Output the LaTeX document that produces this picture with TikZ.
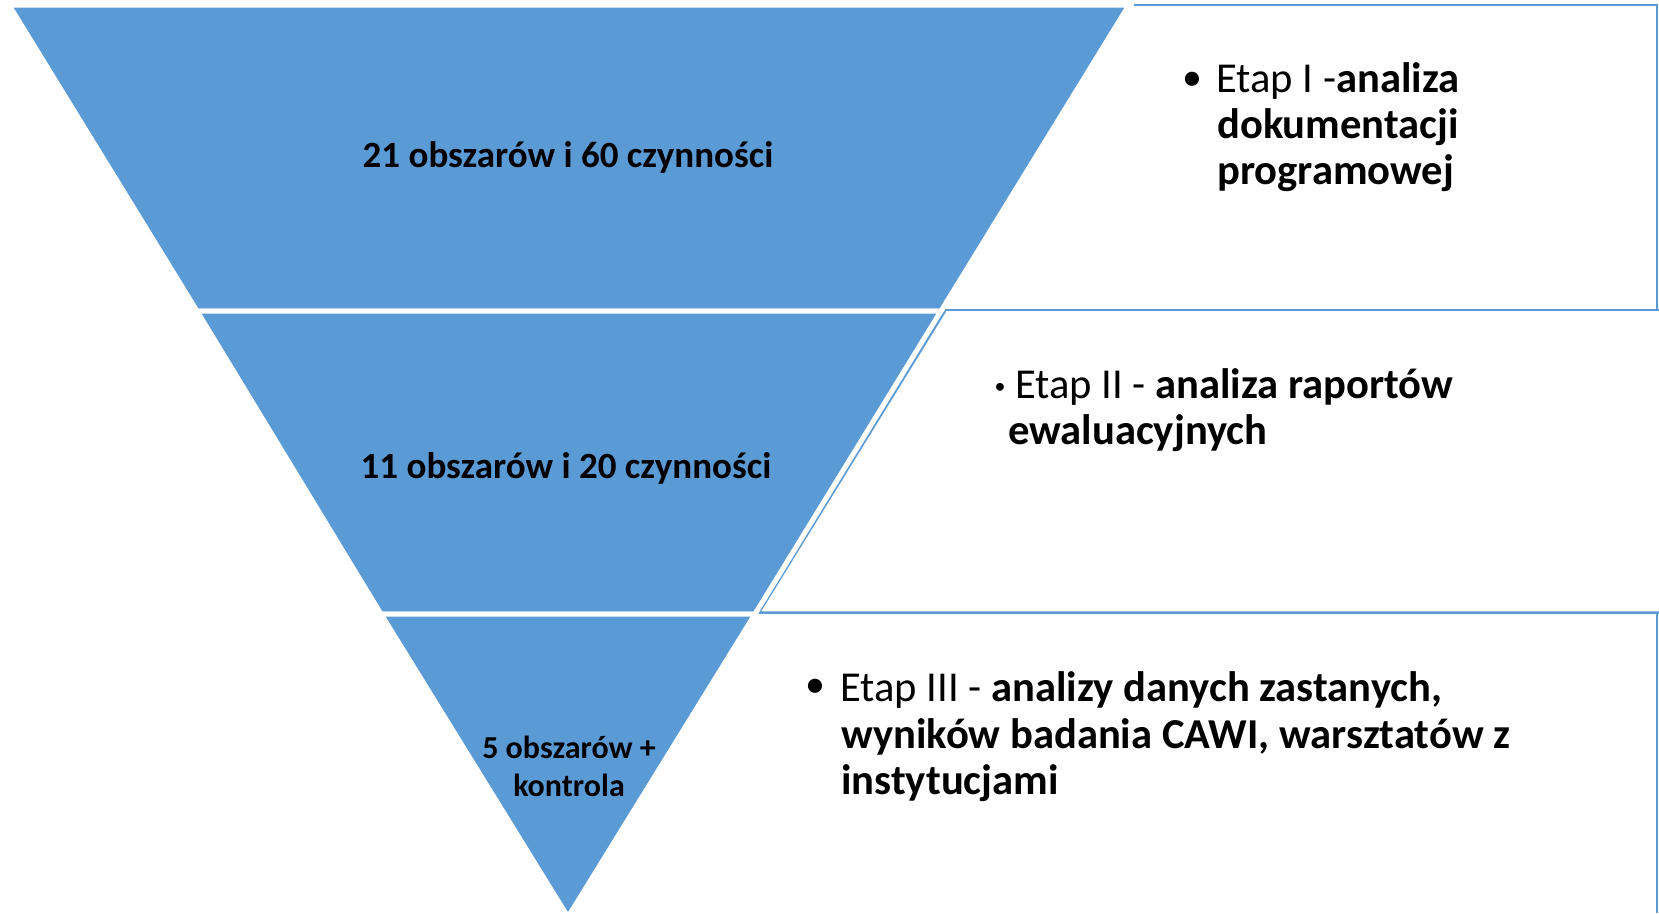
\documentclass[tikz,border=0pt]{standalone}
\usepackage{fontspec}
\setmainfont{Carlito}
\definecolor{segblue}{HTML}{5B9BD5}
\begin{document}
\begin{tikzpicture}[x=1pt,y=-1pt,
  seg/.style={fill=segblue,draw=white,line width=5pt,line join=miter},
  panelline/.style={draw=segblue,line width=2.5pt},
  trilabel/.style={anchor=base,inner sep=0pt,text=black,font=\bfseries\fontsize{37}{44}\selectfont},
  smalllabel/.style={anchor=base,inner sep=0pt,text=black,font=\bfseries\fontsize{32}{38}\selectfont},
  paneltext/.style={anchor=base west,inner sep=0pt,text=black,font=\fontsize{42.6}{46}\selectfont},
  bigbullet/.style={anchor=center,inner sep=0pt,text=black,font=\fontsize{40}{42}\selectfont},
  smallbullet/.style={anchor=center,inner sep=0pt,text=black,font=\fontsize{22}{24}\selectfont}]
\useasboundingbox (0,0) rectangle (1659,913);
\fill[white] (0,0) rectangle (1659,913);

% right-hand panels (drawn first, partly hidden by the pyramid)
\coordinate (p1tl) at (1134,5);
\coordinate (p1tr) at (1657,5);
\coordinate (p1br) at (1657,310);
\coordinate (p1bl) at (945,310);
\coordinate (p1be) at (1659,310);
\coordinate (p2tl) at (945,311);
\coordinate (p2bl) at (759,612.5);
\coordinate (p2be) at (1659,612.5);
\coordinate (p3tr) at (1657,612.5);
\coordinate (p3br) at (1657,913);
\draw[panelline] (p1tl) -- (p1tr) -- (p1br);
\draw[panelline] (p1bl) -- (p1be);
\draw[panelline] (p2tl) -- (p2bl) -- (p2be);
\draw[panelline] (p3tr) -- (p3br);

% pyramid segments
\coordinate (a1) at (9,5);
\coordinate (a2) at (1129,5);
\coordinate (b1) at (197,311);
\coordinate (b2) at (941,311);
\coordinate (c1) at (381,614);
\coordinate (c2) at (755,614);
\coordinate (apex) at (568,917);
\filldraw[seg] (a1) -- (a2) -- (b2) -- (b1) -- cycle;
\filldraw[seg] (b1) -- (b2) -- (c2) -- (c1) -- cycle;
\filldraw[seg] (c1) -- (c2) -- (apex) -- cycle;

% pyramid labels
\node[trilabel] (t1) at (568,167) {21 obszarów i 60 czynności};
\node[trilabel] (t2) at (566,478) {11 obszarów i 20 czynności};
\node[smalllabel] (t3a) at (569,758) {5 obszarów +};
\node[smalllabel] (t3b) at (569,796) {kontrola};

% panel 1 text
\node[bigbullet] (b1dot) at (1192,81) {•};
\node[paneltext] (e1a) at (1216,92) {Etap I -\textbf{analiza}};
\node[paneltext] (e1b) at (1217,138) {\textbf{dokumentacji}};
\node[paneltext] (e1c) at (1217,184) {\textbf{programowej}};

% panel 2 text
\node[smallbullet] (b2dot) at (1000,388) {•};
\node[paneltext] (e2a) at (1015,398) {Etap II - \textbf{analiza raportów}};
\node[paneltext] (e2b) at (1008,444) {\textbf{ewaluacyjnych}};

% panel 3 text
\node[bigbullet] (b3dot) at (815,688) {•};
\node[paneltext] (e3a) at (840,701) {Etap III - \textbf{analizy danych zastanych,}};
\node[paneltext] (e3b) at (841,748) {\textbf{wyników badania CAWI, warsztatów z}};
\node[paneltext] (e3c) at (841,794) {\textbf{instytucjami}};
\end{tikzpicture}
\end{document}
